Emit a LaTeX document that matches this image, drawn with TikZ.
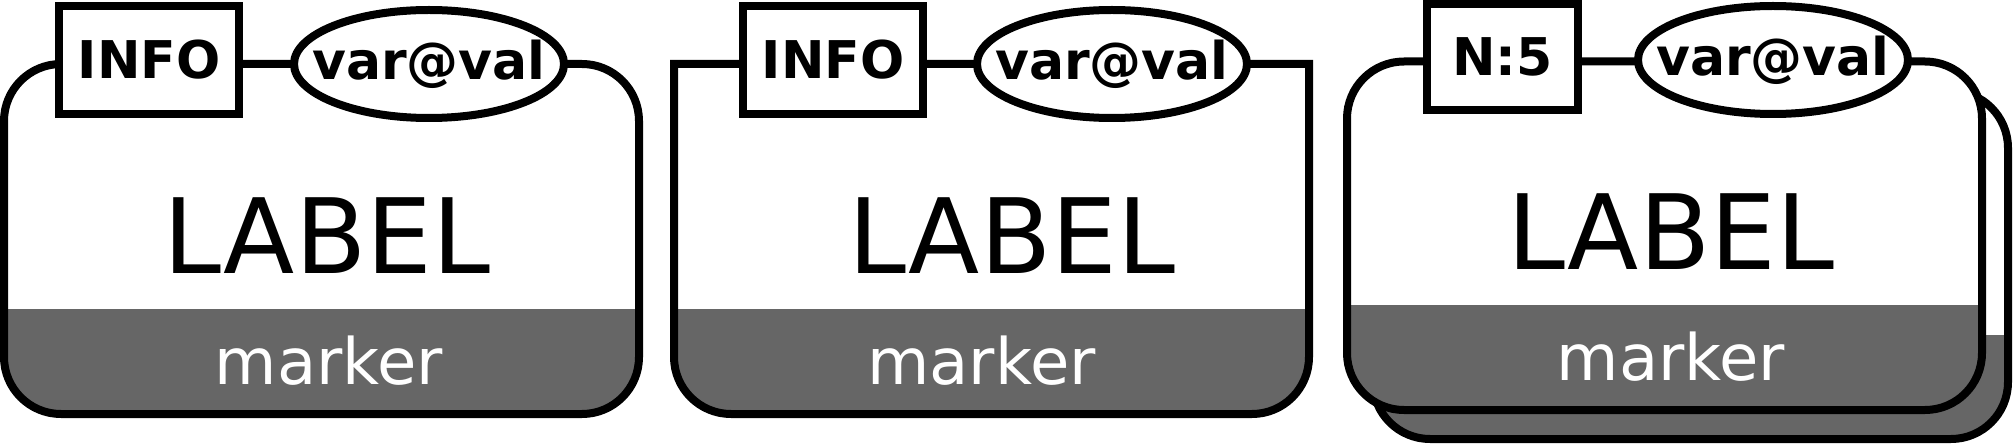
\documentclass[tikz,border=0pt]{standalone}
\usepackage{fontspec}
\setmainfont{DejaVu Sans}
\usetikzlibrary{shapes}
\definecolor{markgray}{RGB}{102,102,102}

\begin{document}
\begin{tikzpicture}[x=0.5pt,y=0.5pt,line width=4pt,
  glyph/.style={rounded corners=28.5pt},
  info node/.style={rectangle,draw,fill=white,minimum width=90pt,minimum height=54pt,inner sep=0pt,font=\fontsize{26}{26}\selectfont\bfseries},
  var node/.style={ellipse,draw,fill=white,minimum width=135pt,minimum height=54pt,inner sep=0pt},
  var text/.style={inner sep=0pt,font=\fontsize{26}{26}\selectfont\bfseries},
  label node/.style={anchor=base,inner sep=0pt,font=\fontsize{52}{52}\selectfont},
  marker node/.style={anchor=base,inner sep=0pt,text=white,font=\fontsize{32}{32}\selectfont}]
\useasboundingbox (0,0) rectangle (2013,445);

% Macromolecula
\fill[white,glyph] (4,31) rectangle (639,381);
\begin{scope}
  \clip[glyph] (4,31) rectangle (639,381);
  \fill[markgray] (0,0) rectangle (660,136);
\end{scope}
\draw[glyph] (4,31) rectangle (639,381);
\node[info node] (i1) at (149,385) {INFO};
\node[var node] (v1) at (429,381) {};
\node[var text] (t1) at (v1) {var@val};
\node[label node] (l1) at (327,171.5) {LABEL};
\node[marker node] (m1) at (329,61) {marker};

% Caracteristica de acido nucleico
\fill[white] (674,381) -- (674,88) arc[start angle=180,end angle=270,radius=57]
  -- (1252,31) arc[start angle=270,end angle=360,radius=57] -- (1309,381) -- cycle;
\begin{scope}
  \clip (674,381) -- (674,88) arc[start angle=180,end angle=270,radius=57]
    -- (1252,31) arc[start angle=270,end angle=360,radius=57] -- (1309,381) -- cycle;
  \fill[markgray] (660,0) rectangle (1320,136);
\end{scope}
\draw (674,381) -- (674,88) arc[start angle=180,end angle=270,radius=57]
  -- (1252,31) arc[start angle=270,end angle=360,radius=57] -- (1309,381) -- cycle;
\node[info node] (i2) at (833,385) {INFO};
\node[var node] (v2) at (1112,381) {};
\node[var text] (t2) at (v2) {var@val};
\node[label node] (l2) at (1012,171.5) {LABEL};
\node[marker node] (m2) at (981.5,61) {marker};

% Multimero: copia de atras
\fill[white,glyph] (1373,6) rectangle (2008,354);
\begin{scope}
  \clip[glyph] (1373,6) rectangle (2008,354);
  \fill[markgray] (1360,0) rectangle (2013,110);
\end{scope}
\draw[glyph] (1373,6) rectangle (2008,354);

% Multimero: copia de delante
\fill[white,glyph] (1347,35) rectangle (1982,383.5);
\begin{scope}
  \clip[glyph] (1347,35) rectangle (1982,383.5);
  \fill[markgray] (1340,0) rectangle (1990,140);
\end{scope}
\draw[glyph] (1347,35) rectangle (1982,383.5);
\node[info node,minimum width=75.5pt,minimum height=53pt] (i3) at (1502.5,388) {N:5};
\node[var node] (v3) at (1773,385) {};
\node[var text] (t3) at (v3) {var@val};
\node[label node] (l3) at (1671,175.4) {LABEL};
\node[marker node] (m3) at (1671,65) {marker};
\end{tikzpicture}
\end{document}
